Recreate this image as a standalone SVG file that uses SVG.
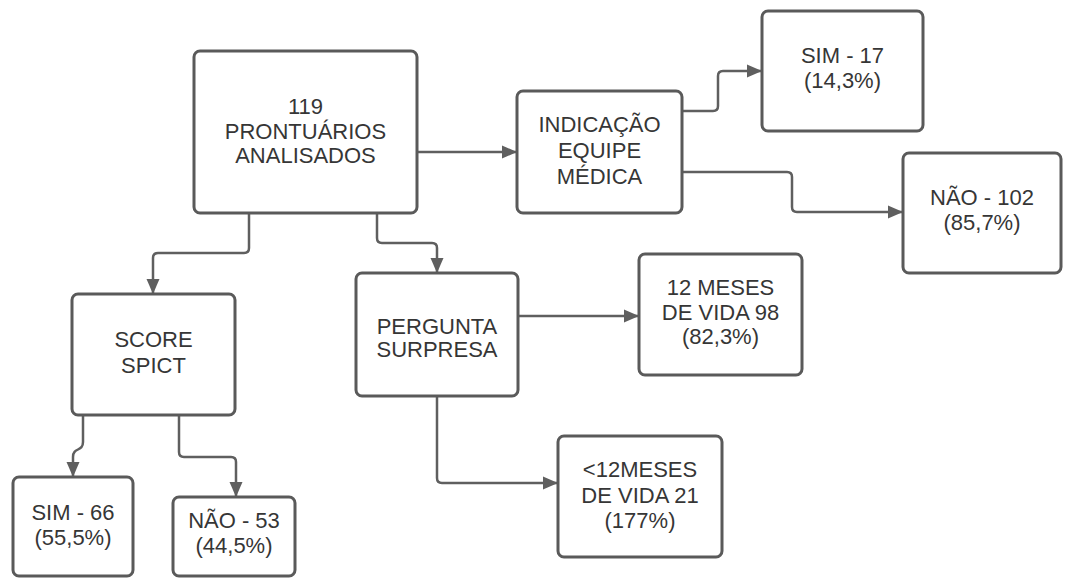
<svg xmlns="http://www.w3.org/2000/svg" width="1065" height="578" viewBox="0 0 1065 578">
<style>
.box{fill:#ffffff;stroke:#5a5a5a;stroke-width:3}
.lbl{font-family:"Liberation Sans",Arial,sans-serif;font-size:22px;fill:#363636;text-anchor:middle}
.edge{fill:none;stroke:#5f5f5f;stroke-width:2.5;marker-end:url(#arr)}
</style>
<defs>
<marker id="arr" markerUnits="userSpaceOnUse" markerWidth="15" markerHeight="15" viewBox="0 0 15 15" refX="14" refY="7.5" orient="auto">
<path d="M0,1 L15,7.5 L0,14 z" fill="#5f5f5f"/>
</marker>
</defs>
<rect width="1065" height="578" fill="#ffffff"/>
<g id="connectors">
<path class="edge" d="M417,152 H516"/>
<path class="edge" d="M682,111 H713 Q718,111 718,106 V76 Q718,71 723,71 H761"/>
<path class="edge" d="M682,172 H787 Q792,172 792,177 V207 Q792,212 797,212 H902"/>
<path class="edge" d="M249,213 V248 Q249,253 244,253 H158 Q153,253 153,258 V293"/>
<path class="edge" d="M377,213 V238 Q377,243 382,243 H432 Q437,243 437,248 V272"/>
<path class="edge" d="M518,316 H638"/>
<path class="edge" d="M437,396 V478 Q437,483 442,483 H557"/>
<path class="edge" d="M83,415 V442 C83,452 73,447 73,457 V476"/>
<path class="edge" d="M179,415 V452 Q179,457 184,457 H231 Q236,457 236,462 V496"/>
</g>
<g id="n-prontuarios">
<rect class="box" x="194" y="51" width="223" height="162" rx="6"/>
<text class="lbl" x="305.5" y="114">119</text>
<text class="lbl" x="305.5" y="139">PRONTUÁRIOS</text>
<text class="lbl" x="305.5" y="163">ANALISADOS</text>
</g>
<g id="n-indicacao">
<rect class="box" x="517" y="91" width="165" height="122" rx="6"/>
<text class="lbl" x="599.5" y="132">INDICAÇÃO</text>
<text class="lbl" x="599.5" y="158">EQUIPE</text>
<text class="lbl" x="599.5" y="184">MÉDICA</text>
</g>
<g id="n-sim17">
<rect class="box" x="762" y="11" width="161" height="120" rx="6"/>
<text class="lbl" x="842.5" y="63">SIM - 17</text>
<text class="lbl" x="842.5" y="88">(14,3%)</text>
</g>
<g id="n-nao102">
<rect class="box" x="903" y="153" width="158" height="120" rx="6"/>
<text class="lbl" x="982" y="205">NÃO - 102</text>
<text class="lbl" x="982" y="230">(85,7%)</text>
</g>
<g id="n-score">
<rect class="box" x="72" y="294" width="163" height="121" rx="6"/>
<text class="lbl" x="153.5" y="347">SCORE</text>
<text class="lbl" x="153.5" y="373">SPICT</text>
</g>
<g id="n-pergunta">
<rect class="box" x="356" y="273" width="162" height="123" rx="6"/>
<text class="lbl" x="437" y="334">PERGUNTA</text>
<text class="lbl" x="437" y="357">SURPRESA</text>
</g>
<g id="n-12meses">
<rect class="box" x="639" y="254" width="163" height="121" rx="6"/>
<text class="lbl" x="720.5" y="295">12 MESES</text>
<text class="lbl" x="720.5" y="320">DE VIDA 98</text>
<text class="lbl" x="720.5" y="344">(82,3%)</text>
</g>
<g id="n-menos12">
<rect class="box" x="558" y="436" width="164" height="121" rx="6"/>
<text class="lbl" x="640" y="477">&lt;12MESES</text>
<text class="lbl" x="640" y="503">DE VIDA 21</text>
<text class="lbl" x="640" y="528">(177%)</text>
</g>
<g id="n-sim66">
<rect class="box" x="13" y="477" width="120" height="99" rx="6"/>
<text class="lbl" x="73" y="520">SIM - 66</text>
<text class="lbl" x="73" y="545">(55,5%)</text>
</g>
<g id="n-nao53">
<rect class="box" x="173" y="497" width="122" height="79" rx="6"/>
<text class="lbl" x="234" y="528">NÃO - 53</text>
<text class="lbl" x="234" y="553">(44,5%)</text>
</g>
</svg>
